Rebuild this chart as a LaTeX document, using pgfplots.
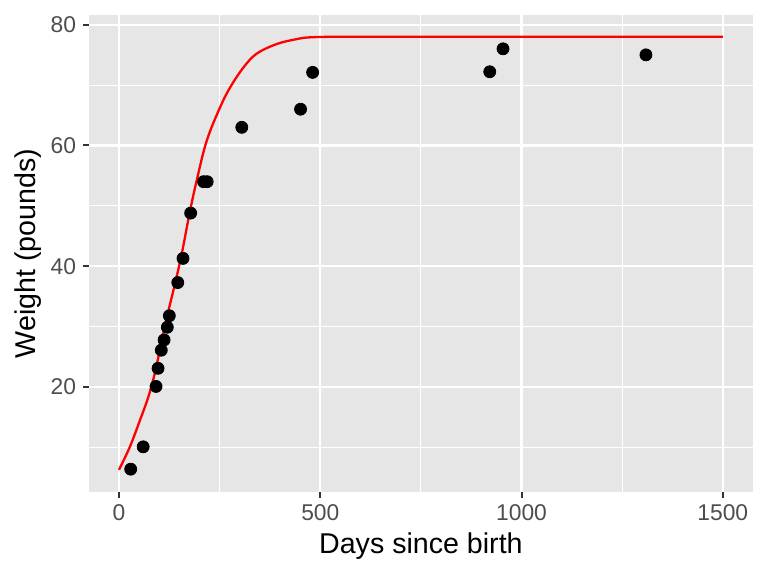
\documentclass[border=0pt]{standalone}
\usepackage{fontspec}
\setmainfont{Liberation Sans}
\usepackage{pgfplots}
\pgfplotsset{compat=1.18}
\definecolor{panelgray}{HTML}{E6E6E6}
\definecolor{ticktext}{HTML}{4D4D4D}
\definecolor{tickmark}{HTML}{333333}

\begin{document}
\begin{tikzpicture}
\begin{axis}[
scale only axis,
width=332pt,height=238.5pt,
xmin=-75,xmax=1575,
ymin=2.6,ymax=81.6,
xtick={0,500,1000,1500},
ytick={20,40,60,80},
minor xtick={250,750,1250},
minor ytick={10,30,50,70},
grid=both,
major grid style={white,line width=1.1pt},
minor grid style={white,line width=0.55pt},
axis line style={draw=none},
axis background/.style={fill=panelgray},
tick align=outside,
xtick pos=bottom,ytick pos=left,
major tick length=2.9pt,
minor tick length=0pt,
tick style={tickmark,line width=1pt},
/pgf/number format/assume math mode=true,
/pgf/number format/set thousands separator={},
ticklabel style={font=\fontsize{11.4}{13}\selectfont,text=ticktext},
xlabel={Days since birth},
ylabel={Weight (pounds)},
label style={font=\fontsize{14.3}{16}\selectfont},
xlabel style={at={(axis description cs:0.5,-0.1132)},anchor=center},
ylabel style={at={(axis description cs:-0.0916,0.5)},anchor=center},
]
% fitted growth curve
\addplot[red,line width=1.15pt,smooth,tension=0.6] coordinates {
(0,6.3)
(27,10.1)
(52,14.5)
(73,18.4)
(89,22.3)
(102,26.3)
(117,31.0)
(139,37.1)
(156,42.1)
(175,48.7)
(193,54.2)
(218,60.8)
(251,66.3)
(276,69.6)
(309,72.9)
(342,75.2)
(392,76.8)
(441,77.6)
(474,77.9)
(550,78.0)
(700,78.0)
(1000,78.0)
(1500,78.0)
};
% observed weights
\addplot[only marks,mark=*,mark size=3pt,black] coordinates {
(29,6.4)
(60,10.1)
(92,20.1)
(97,23.1)
(105,26.1)
(112,27.8)
(120,29.9)
(125,31.8)
(146,37.3)
(159,41.3)
(178,48.8)
(210,54.0)
(219,54.0)
(305,63.0)
(451,66.0)
(481,72.1)
(921,72.2)
(954,76.0)
(1309,75.0)
};
\end{axis}
\pgfresetboundingbox
\path ([shift={(-44.4pt,-42pt)}]current axis.south west) rectangle ([shift={(7.5pt,7.5pt)}]current axis.north east);
\end{tikzpicture}
\end{document}
